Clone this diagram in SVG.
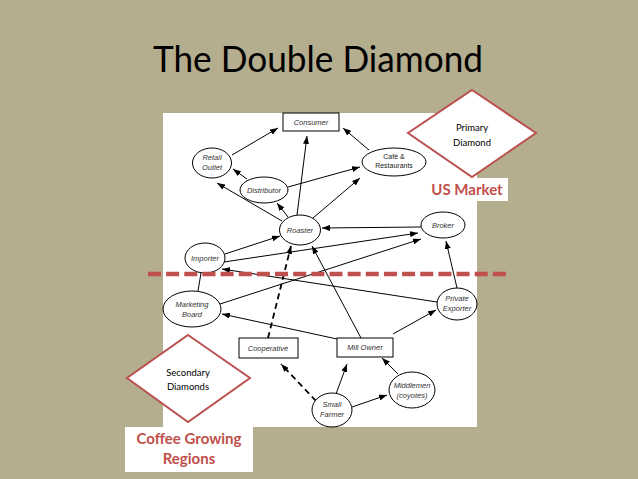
<svg xmlns="http://www.w3.org/2000/svg" width="638" height="479" viewBox="0 0 638 479">
<defs>
<marker id="ah" markerUnits="userSpaceOnUse" markerWidth="8" markerHeight="6" refX="8" refY="3" orient="auto">
<path d="M0,0 L8,3 L0,6 z" fill="#000"/>
</marker>
<style>
.nd{fill:#fff;stroke:#000;stroke-width:1}
.lb{font-family:"Liberation Sans",Arial,sans-serif;font-style:italic;font-size:7.5px;fill:#333;text-anchor:middle}
.lbn{font-family:"Liberation Sans",Arial,sans-serif;font-size:7px;fill:#222;text-anchor:middle}
.e{stroke:#000;stroke-width:1;fill:none;marker-end:url(#ah)}
.l{stroke:#000;stroke-width:1;fill:none}
.d{stroke:#000;stroke-width:1.8;fill:none;stroke-dasharray:6,4;marker-end:url(#ah)}
.dia{fill:#fff;stroke:#b9524f;stroke-width:2}
.dt{font-family:Lato,"Open Sans",sans-serif;font-size:9.5px;fill:#000;text-anchor:middle}
.rt{font-family:Lato,"Open Sans",sans-serif;font-weight:bold;font-size:15px;fill:#bf4f4b;text-anchor:middle}
</style>
</defs>
<rect x="0" y="0" width="638" height="479" fill="#b4ad8e"/>
<text x="153" y="72" font-family="Lato,'Open Sans',sans-serif" font-size="36" fill="#000" textLength="330" lengthAdjust="spacingAndGlyphs">The Double Diamond</text>
<rect x="163" y="113" width="314" height="314" fill="#fff"/>

<g id="connectors">
<line class="e" x1="232" y1="155" x2="278" y2="128"/>
<line class="e" x1="369" y1="150" x2="343" y2="128"/>
<line class="e" x1="297" y1="215" x2="307" y2="136"/>
<line class="e" x1="247" y1="179" x2="233" y2="169"/>
<line class="e" x1="288" y1="187" x2="360" y2="167"/>
<line class="e" x1="282" y1="221" x2="217" y2="183"/>
<line class="e" x1="288" y1="217" x2="277" y2="203"/>
<line class="e" x1="313" y1="218" x2="360" y2="178"/>
<line class="e" x1="421" y1="227" x2="322" y2="228"/>
<line class="e" x1="225" y1="254" x2="280" y2="236"/>
<line class="e" x1="224" y1="262" x2="418" y2="233"/>
<line class="e" x1="220" y1="304" x2="421" y2="239"/>
<line class="l" x1="198" y1="291" x2="201" y2="273"/>
<line class="e" x1="437" y1="302" x2="222" y2="269"/>
<line class="e" x1="337" y1="339" x2="222" y2="314"/>
<line class="e" x1="361" y1="338" x2="312" y2="246"/>
<line class="e" x1="393" y1="334" x2="436" y2="310"/>
<line class="e" x1="457" y1="288" x2="446" y2="241"/>
<line class="d" x1="268" y1="338" x2="291" y2="246"/>
<line class="d" x1="316" y1="401" x2="281" y2="364"/>
<line class="e" x1="336" y1="394" x2="347" y2="364"/>
<line class="e" x1="352" y1="407" x2="387" y2="395"/>
<line class="e" x1="398" y1="374" x2="382" y2="358"/>
</g>

<g id="consumer"><rect class="nd" x="283" y="113" width="56" height="18"/><text class="lb" x="311" y="125">Consumer</text></g>
<g id="retail"><ellipse class="nd" cx="212" cy="163" rx="19.5" ry="15"/><text class="lb" x="212" y="160">Retail</text><text class="lb" x="212" y="170">Outlet</text></g>
<g id="distributor"><ellipse class="nd" cx="264" cy="190" rx="24" ry="13"/><text class="lb" x="264" y="193">Distributor</text></g>
<g id="cafe"><ellipse class="nd" cx="394" cy="162" rx="32" ry="14"/><text class="lbn" x="394" y="159">Café &amp;</text><text class="lbn" x="394" y="168">Restaurants</text></g>
<g id="roaster"><ellipse class="nd" cx="300" cy="230" rx="20.5" ry="15"/><text class="lb" x="300" y="233">Roaster</text></g>
<g id="broker"><ellipse class="nd" cx="443" cy="225" rx="22" ry="13"/><text class="lb" x="443" y="228">Broker</text></g>
<g id="importer"><ellipse class="nd" cx="205" cy="258" rx="20" ry="15"/><text class="lb" x="205" y="261">Importer</text></g>
<g id="marketing"><ellipse class="nd" cx="192" cy="309" rx="29" ry="18"/><text class="lb" x="192" y="307">Marketing</text><text class="lb" x="192" y="317">Board</text></g>
<g id="exporter"><ellipse class="nd" cx="457" cy="304" rx="20" ry="16"/><text class="lb" x="457" y="301">Private</text><text class="lb" x="457" y="311">Exporter</text></g>
<g id="cooperative"><rect class="nd" x="239" y="338" width="59" height="20"/><text class="lb" x="268" y="351">Cooperative</text></g>
<g id="millowner"><rect class="nd" x="337" y="338" width="56" height="19"/><text class="lb" x="365" y="350">Mill Owner</text></g>
<g id="smallfarmer"><ellipse class="nd" cx="332" cy="410" rx="20" ry="17"/><text class="lb" x="332" y="407">Small</text><text class="lb" x="332" y="417">Farmer</text></g>
<g id="middlemen"><ellipse class="nd" cx="412" cy="390" rx="23" ry="18"/><text class="lb" x="412" y="388">Middlemen</text><text class="lb" x="412" y="398">(coyotes)</text></g>

<line x1="148" y1="274" x2="508" y2="274" stroke="#c0504d" stroke-width="4.5" stroke-dasharray="13,5.15"/>

<g id="primary">
<polygon class="dia" points="472,90 536,133 472,177 408,133"/>
<text class="dt" x="472" y="131">Primary</text>
<text class="dt" x="472" y="146">Diamond</text>
</g>
<g id="usmarket">
<rect x="428" y="178" width="80" height="23" fill="#fff"/>
<text class="rt" x="467" y="195">US Market</text>
</g>
<g id="secondary">
<polygon class="dia" points="188,335 250,378 188,422 127,378"/>
<text class="dt" x="188" y="376">Secondary</text>
<text class="dt" x="188" y="390">Diamonds</text>
</g>
<g id="coffee">
<rect x="125" y="427" width="128" height="45" fill="#fff"/>
<text class="rt" x="189" y="444">Coffee Growing</text>
<text class="rt" x="189" y="464">Regions</text>
</g>
</svg>
